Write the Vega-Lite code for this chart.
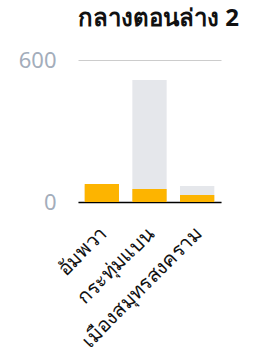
{
  "$schema": "https://vega.github.io/schema/vega-lite/v6.json",
  "autosize": {"type": "none"},
  "padding": {"left": 78, "top": 60, "right": 48, "bottom": 158},
  "width": 143,
  "height": 142,
  "background": "white",
  "title": {
    "text": "กลางตอนล่าง 2",
    "anchor": "start",
    "frame": "group",
    "fontSize": 24,
    "fontWeight": "bold",
    "font": "Noto Sans",
    "color": "#111111",
    "offset": 18
  },
  "data": {
    "values": [
      {"amphoe": "อัมพวา", "total": 70, "value": 76},
      {"amphoe": "กระทุ่มแบน", "total": 515, "value": 55},
      {"amphoe": "เมืองสมุทรสงคราม", "total": 68, "value": 30}
    ]
  },
  "encoding": {
    "x": {
      "field": "amphoe",
      "type": "nominal",
      "sort": null,
      "scale": {"paddingInner": 0.28, "paddingOuter": 0.14},
      "axis": {
        "title": null,
        "labelAngle": -45,
        "labelAlign": "right",
        "labelBaseline": "middle",
        "labelFontSize": 20,
        "labelFont": "Noto Sans",
        "labelColor": "#111111",
        "labelPadding": 28,
        "labelOffset": 2,
        "ticks": false,
        "domainColor": "#000000",
        "domainWidth": 1.5,
        "labelLimit": 400
      }
    }
  },
  "layer": [
    {
      "mark": {"type": "bar", "color": "#E5E7EB"},
      "encoding": {
        "y": {
          "field": "total",
          "type": "quantitative",
          "scale": {"domain": [0, 600], "nice": false},
          "axis": {
            "title": null,
            "values": [0, 600],
            "labelFontSize": 22,
            "labelFont": "Noto Sans",
            "labelColor": "#A3ADBB",
            "labelPadding": 22,
            "ticks": false,
            "domain": false,
            "gridColor": "#CCCCCC",
            "gridWidth": 1
          }
        }
      }
    },
    {
      "mark": {"type": "bar", "color": "#FDB400"},
      "encoding": {
        "y": {"field": "value", "type": "quantitative"}
      }
    }
  ],
  "config": {"view": {"stroke": null}}
}
